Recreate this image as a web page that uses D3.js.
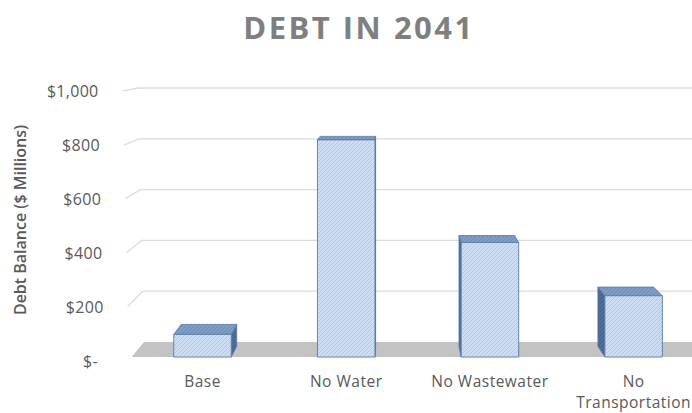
<!DOCTYPE html>
<html>
<head>
<meta charset="utf-8">
<script src="https://cdn.jsdelivr.net/npm/d3@7"></script>
<style>
  html, body { margin: 0; padding: 0; background: #fff; }
  svg { display: block; }
  text { font-family: "Open Sans", "Noto Sans", sans-serif; }
</style>
</head>
<body>
<svg id="chart" width="692" height="413"></svg>
<script>
// Debt balance in 2041 by scenario ($ millions)
const categories = ["Base", "No Water", "No Wastewater", "No Transportation"];
const debtValues = [85, 815, 430, 230];
const tickValues = [0, 200, 400, 600, 800, 1000];
const tickLabels = ["$-", "$200", "$400", "$600", "$800", "$1,000"];
const chartTitle = "DEBT IN 2041";
const yAxisTitle = "Debt Balance ($ Millions)";

const W = 692, H = 413;
const svg = d3.select("#chart");

// Simple one-point perspective: back wall coordinates are scaled
// away from a vanishing point as depth comes toward the viewer.
const VP = { x: 395, y: 35 };
const S_FRONT = 1.049;   // front face of the columns / floor front edge
const S_BACK = 1.014;    // back face of the columns
const S_WALL = 1.06;     // front edge of the side wall
function proj(xb, yb, s) {
  return [VP.x + (xb - VP.x) * s, VP.y + (yb - VP.y) * s];
}

// Scales on the back wall plane
const x = d3.scaleBand().domain(categories).range([143, 691])
  .paddingInner(0.6).paddingOuter(0.3);
const y = d3.scaleLinear().domain([0, 1000]).range([342, 88]);
// left edge of the back wall leans slightly toward the top
const wallLeft = v => 144 - 6 * v / 1000;

// patterns for the column faces
const defs = svg.append("defs");
function hatch(id, bg, fg) {
  const p = defs.append("pattern").attr("id", id)
    .attr("patternUnits", "userSpaceOnUse").attr("width", 4).attr("height", 4);
  p.append("rect").attr("width", 4).attr("height", 4).attr("fill", bg);
  p.append("path").attr("d", "M-1,1 l2,-2 M0,4 l4,-4 M3,5 l2,-2")
    .attr("stroke", fg).attr("stroke-width", 0.8);
}
hatch("hatchFront", "#cddef4", "#aac2e4");
hatch("hatchTop", "#7f9cc5", "#6a88b3");
hatch("hatchSide", "#4f6d98", "#445f86");

// Title
svg.append("text")
  .attr("x", 359).attr("y", 39)
  .attr("text-anchor", "middle")
  .attr("font-size", 31).attr("font-weight", 700)
  .attr("letter-spacing", 2.5)
  .attr("fill", "#7f7f7f")
  .text(chartTitle);

// Gridlines: back wall + side wall segment
const grid = svg.append("g");
tickValues.filter(v => v > 0).forEach(v => {
  const xl = wallLeft(v), yb = y(v);
  const f = proj(xl, yb, S_WALL);
  grid.append("path")
    .attr("d", `M${f[0]},${f[1]}L${xl},${yb}L${W + 5},${yb}`)
    .attr("fill", "none").attr("stroke", "#dcdcdc").attr("stroke-width", 1.3);
});

// Floor
const fl = [
  [wallLeft(0), y(0)],
  [W + 20, y(0)],
  proj(W + 20, y(0), S_FRONT),
  proj(wallLeft(0), y(0), S_FRONT)
];
svg.append("path").attr("d", d3.line()(fl) + "Z").attr("fill", "#c3c3c3");

// Tick labels along the front edge of the side wall
const ticks = svg.append("g").attr("font-size", 16).attr("letter-spacing", 0.3).attr("fill", "#595959");
tickValues.forEach((v, i) => {
  const f = proj(wallLeft(v), y(v), S_WALL);
  ticks.append("text")
    .attr("x", f[0] - (v === 0 ? 31 : 24))
    .attr("y", f[1] + 2)
    .attr("text-anchor", "end")
    .attr("dominant-baseline", "middle")
    .text(tickLabels[i]);
});

// Y axis title
svg.append("text")
  .attr("transform", "translate(22,220) rotate(-90)")
  .attr("text-anchor", "middle")
  .attr("dominant-baseline", "middle")
  .attr("font-size", 16).attr("font-weight", 600)
  .attr("fill", "#595959")
  .text(yAxisTitle);

// Columns
const bars = svg.append("g");
categories.forEach((c, i) => {
  const v = debtValues[i];
  const x0 = x(c), x1 = x(c) + x.bandwidth();
  const yt = y(v), y0 = y(0);
  const g = bars.append("g");
  const poly = pts => d3.line()(pts) + "Z";
  const edge = "#5878a8";
  // side face
  if (x1 < VP.x) {
    g.append("path").attr("d", poly([proj(x1, yt, S_FRONT), proj(x1, yt, S_BACK), proj(x1, y0, S_BACK), proj(x1, y0, S_FRONT)]))
      .attr("fill", "url(#hatchSide)").attr("stroke", edge).attr("stroke-width", 0.8);
  } else if (x0 > VP.x) {
    g.append("path").attr("d", poly([proj(x0, yt, S_FRONT), proj(x0, yt, S_BACK), proj(x0, y0, S_BACK), proj(x0, y0, S_FRONT)]))
      .attr("fill", "url(#hatchSide)").attr("stroke", edge).attr("stroke-width", 0.8);
  }
  // top face
  g.append("path").attr("d", poly([proj(x0, yt, S_BACK), proj(x1, yt, S_BACK), proj(x1, yt, S_FRONT), proj(x0, yt, S_FRONT)]))
    .attr("fill", "url(#hatchTop)").attr("stroke", edge).attr("stroke-width", 0.8);
  // front face
  g.append("path").attr("d", poly([proj(x0, yt, S_FRONT), proj(x1, yt, S_FRONT), proj(x1, y0, S_FRONT), proj(x0, y0, S_FRONT)]))
    .attr("fill", "url(#hatchFront)").attr("stroke", edge).attr("stroke-width", 0.9);
});

// Category labels under each column
const cats = svg.append("g").attr("font-size", 15.5).attr("letter-spacing", 0.5)
  .attr("fill", "#595959").attr("text-anchor", "middle");
categories.forEach(c => {
  const cx = proj(x(c) + x.bandwidth() / 2, y(0), S_FRONT)[0];
  const words = c === "No Transportation" ? ["No", "Transportation"] : [c];
  const t = cats.append("text").attr("x", cx).attr("y", 387);
  words.forEach((w, k) => {
    t.append("tspan").attr("x", cx).attr("dy", k === 0 ? 0 : 21).text(w);
  });
});
</script>
</body>
</html>
